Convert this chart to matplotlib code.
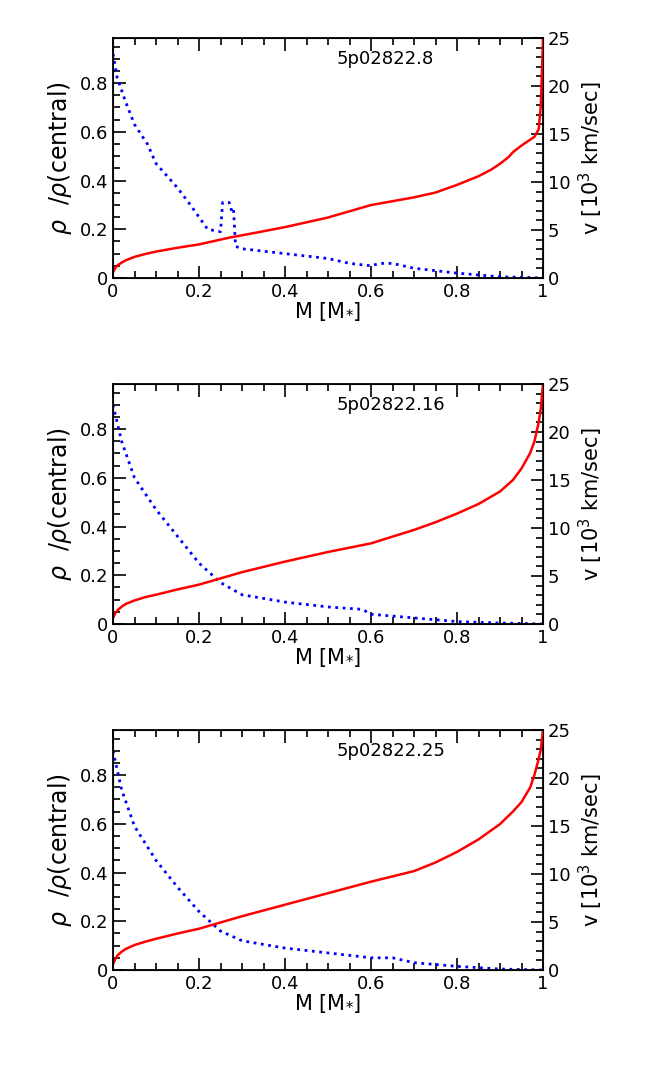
import matplotlib
matplotlib.use("Agg")
import matplotlib.pyplot as plt
from matplotlib.ticker import MultipleLocator

titles = ["5p02822.8", "5p02822.16", "5p02822.25"]

rho_m = [
 [0,0.01,0.03,0.05,0.08,0.1,0.12,0.15,0.18,0.2,0.22,0.25,0.255,0.27,0.275,0.28,0.285,0.3,0.35,0.4,0.45,0.5,0.55,0.6,0.62,0.65,0.7,0.8,0.9,0.95,1.0],
 [0,0.02,0.05,0.1,0.15,0.2,0.25,0.3,0.4,0.5,0.58,0.6,0.7,0.8,0.9,1.0],
 [0,0.02,0.05,0.1,0.15,0.2,0.25,0.3,0.4,0.5,0.6,0.65,0.7,0.8,0.9,1.0],
]
rho_v = [
 [0.92,0.82,0.72,0.63,0.55,0.47,0.43,0.37,0.30,0.25,0.20,0.19,0.31,0.31,0.28,0.29,0.13,0.12,0.11,0.10,0.09,0.08,0.06,0.05,0.06,0.06,0.04,0.02,0.005,0.003,0.0],
 [0.90,0.75,0.60,0.47,0.36,0.25,0.17,0.12,0.09,0.07,0.06,0.04,0.025,0.01,0.004,0.0],
 [0.90,0.74,0.59,0.45,0.34,0.24,0.16,0.12,0.09,0.07,0.05,0.05,0.03,0.015,0.004,0.0],
]
vel_m = [
 [0,0.005,0.01,0.02,0.03,0.05,0.075,0.1,0.15,0.2,0.27,0.33,0.4,0.5,0.6,0.7,0.75,0.8,0.85,0.88,0.9,0.92,0.93,0.95,0.97,0.98,0.99,0.995,1.0],
 [0,0.005,0.01,0.02,0.03,0.05,0.075,0.1,0.15,0.2,0.3,0.4,0.5,0.6,0.7,0.75,0.8,0.85,0.9,0.93,0.95,0.97,0.98,0.99,0.995,1.0],
 [0,0.005,0.01,0.02,0.03,0.05,0.075,0.1,0.15,0.2,0.3,0.4,0.5,0.6,0.7,0.75,0.8,0.85,0.9,0.93,0.95,0.97,0.98,0.99,0.995,1.0],
]
vel_v = [
 [0.6,1.0,1.3,1.6,1.85,2.2,2.5,2.75,3.15,3.5,4.2,4.7,5.3,6.3,7.6,8.4,8.9,9.7,10.6,11.3,11.9,12.6,13.1,13.8,14.4,14.7,15.5,18.0,25.0],
 [0.6,1.1,1.4,1.8,2.1,2.45,2.8,3.05,3.6,4.1,5.4,6.5,7.5,8.4,9.8,10.6,11.5,12.5,13.8,15.0,16.2,17.8,19.0,21.0,22.5,25.0],
 [0.6,1.1,1.5,1.9,2.2,2.6,2.95,3.25,3.8,4.3,5.6,6.8,8.0,9.2,10.3,11.2,12.3,13.6,15.2,16.5,17.5,19.0,20.3,22.0,23.0,25.0],
]

plt.rcParams['font.family'] = ['DejaVu Sans']
fig = plt.figure(figsize=(6.54, 10.65), dpi=100)
W, H = 654, 1065
tops = [38, 384, 730]
for i in range(3):
    ax = fig.add_axes([113/W, 1-(tops[i]+240)/H, 430/W, 240/H])
    ax.plot(rho_m[i], rho_v[i], color='blue', ls=':', lw=2)
    ax.set_xlim(0, 1)
    ax.set_ylim(0, 0.985)
    ax.xaxis.set_minor_locator(MultipleLocator(0.05))
    ax.yaxis.set_minor_locator(MultipleLocator(0.05))
    ax.tick_params(which='both', direction='in', top=True, labelsize=13, width=1.2)
    ax.tick_params(which='major', length=9)
    ax.tick_params(which='minor', length=5)
    ax.set_xticks([0,0.2,0.4,0.6,0.8,1.0])
    ax.set_xticklabels(['0','0.2','0.4','0.6','0.8','1'])
    ax.set_yticks([0,0.2,0.4,0.6,0.8])
    ax.set_yticklabels(['0','0.2','0.4','0.6','0.8'])
    for s in ax.spines.values():
        s.set_linewidth(1.3)
    ax.set_xlabel(r'M [M$_{*}$]', fontsize=15, labelpad=0)
    ax.set_ylabel(r'$\rho$  /$\rho$(central)', fontsize=17)
    ax.text(0.52, 0.89, titles[i], transform=ax.transAxes, fontsize=13)
    ax2 = ax.twinx()
    ax2.plot(vel_m[i], vel_v[i], color='red', lw=1.8)
    ax2.set_ylim(0, 25)
    ax2.yaxis.set_major_locator(MultipleLocator(5))
    ax2.yaxis.set_minor_locator(MultipleLocator(1))
    ax2.tick_params(which='both', direction='in', labelsize=13, width=1.2)
    ax2.tick_params(which='major', length=9)
    ax2.tick_params(which='minor', length=5)
    ax2.set_ylabel(r'v [10$^{3}$ km/sec]', fontsize=15)
fig.savefig('out.png', dpi=100)
